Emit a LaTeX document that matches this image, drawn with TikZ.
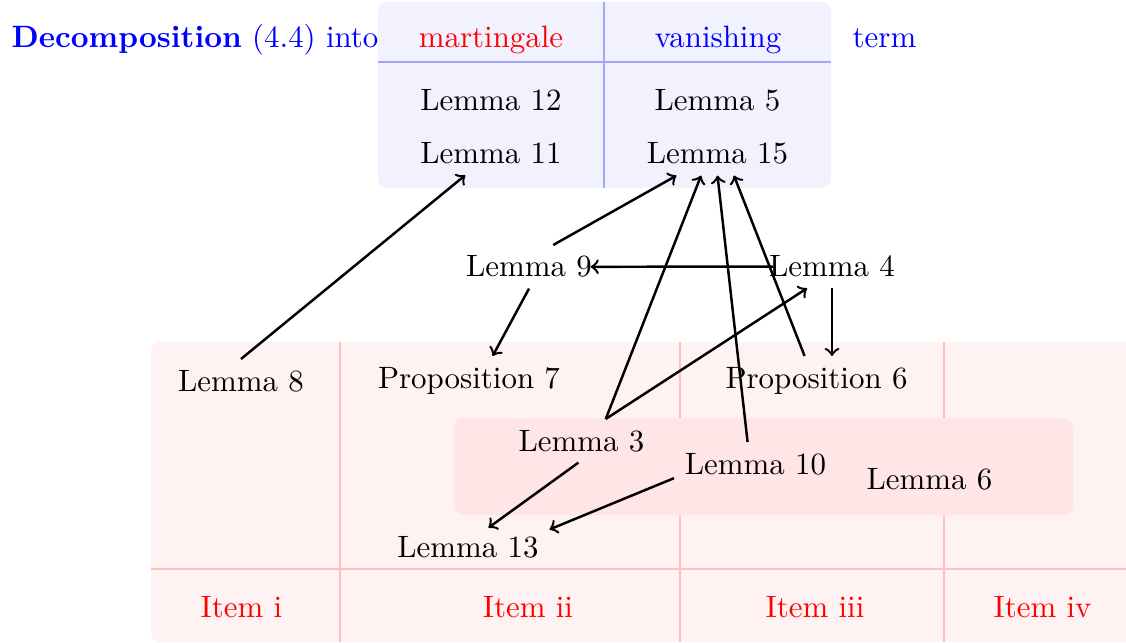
\documentclass[tikz,border=0pt]{standalone}
\usepackage{xcolor}
\usepackage{amsmath}
\usepackage{tikz}

\tikzset{
  lem/.style={anchor=base},
  head/.style={anchor=base},
  itemlabel/.style={anchor=base,text=red},
  dep/.style={->,thick},
  bluegrid/.style={blue!35,line width=0.35pt},
  redgrid/.style={red!25,line width=0.35pt}
}

\begin{document}
\begin{tikzpicture}[x=0.3236pt,y=0.3236pt,yscale=-1,xscale=1]
\clip (0,0) rectangle (1126,643);

%Rounded Rect: martingale / vanishing table
\fill [blue!5, rounded corners=3pt] (378,2) rectangle (831,188);
\draw [bluegrid] (378,62) -- (831,62);
\draw [bluegrid] (604,2) -- (604,188);

%Rounded Rect: items table
\fill [red!5, rounded corners=3pt] (151,342) rectangle (1145,642);
\draw [redgrid] (151,569) -- (1145,569);
\draw [redgrid] (340,342) -- (340,642);
\draw [redgrid] (680,342) -- (680,642);
\draw [redgrid] (944,342) -- (944,642);

%Rounded Rect: inner block
\fill [red!10, rounded corners=3pt] (454,418) rectangle (1073,515);

% Text Node
\draw (11,48) node [anchor=base west, inner sep=0pt, text=blue] (title) {\textbf{Decomposition} (4.4) into};
% Text Node
\draw (491,48) node [head, text=red] (mart) {martingale};
% Text Node
\draw (718,48) node [head, text=blue] (van) {vanishing};
% Text Node
\draw (884.5,48) node [head, text=blue] (term) {term};

% Text Node
\draw (491,111) node [lem] (l12) {Lemma 12};
% Text Node
\draw (491,164) node [lem] (l11) {Lemma 11};
% Text Node
\draw (717.5,111) node [lem] (l5) {Lemma 5};
% Text Node
\draw (717.5,164) node [lem] (l15) {Lemma 15};

% Text Node
\draw (529,277) node [lem] (l9) {Lemma 9};
% Text Node
\draw (832,277) node [lem] (l4) {Lemma 4};

% Text Node
\draw (241,391) node [lem] (l8) {Lemma 8};
% Text Node
\draw (469,388) node [lem] (p7) {Proposition 7};
% Text Node
\draw (816.5,388) node [lem] (p6) {Proposition 6};
% Text Node
\draw (581.5,451) node [lem] (l3) {Lemma 3};
% Text Node
\draw (755.5,474) node [lem] (l10) {Lemma 10};
% Text Node
\draw (929.5,489) node [lem] (l6) {Lemma 6};
% Text Node
\draw (468,557) node [lem] (l13) {Lemma 13};

% Text Node
\draw (241.5,617) node [itemlabel] (it1) {Item i};
% Text Node
\draw (528,617) node [itemlabel] (it2) {Item ii};
% Text Node
\draw (815,617) node [itemlabel] (it3) {Item iii};
% Text Node
\draw (1042.5,617) node [itemlabel] (it4) {Item iv};

%Straight Lines
\draw [dep] (l8.north) -- (l11.220);
\draw [dep] (l9.42) -- (l15.208);
\draw [dep] (l3.42) -- (l15.233);
\draw [dep] (l10.110) -- (l15.south);
\draw [dep] (p6.116) -- (l15.307);
\draw [dep, shorten <=-4.9pt, shorten >=-3.9pt] (l4.west) -- (l9.east);
\draw [dep] (l9.south) -- (p7.46);
\draw [dep] (l4.south) -- (l4.south |- p6.north);
\draw [dep] (l3.42) -- (l4.221);
\draw [dep, shorten >=-1.5pt] (l3.262) -- (l13.42);
\draw [dep] (l10.190) -- (l13.12);

\end{tikzpicture}
\end{document}
